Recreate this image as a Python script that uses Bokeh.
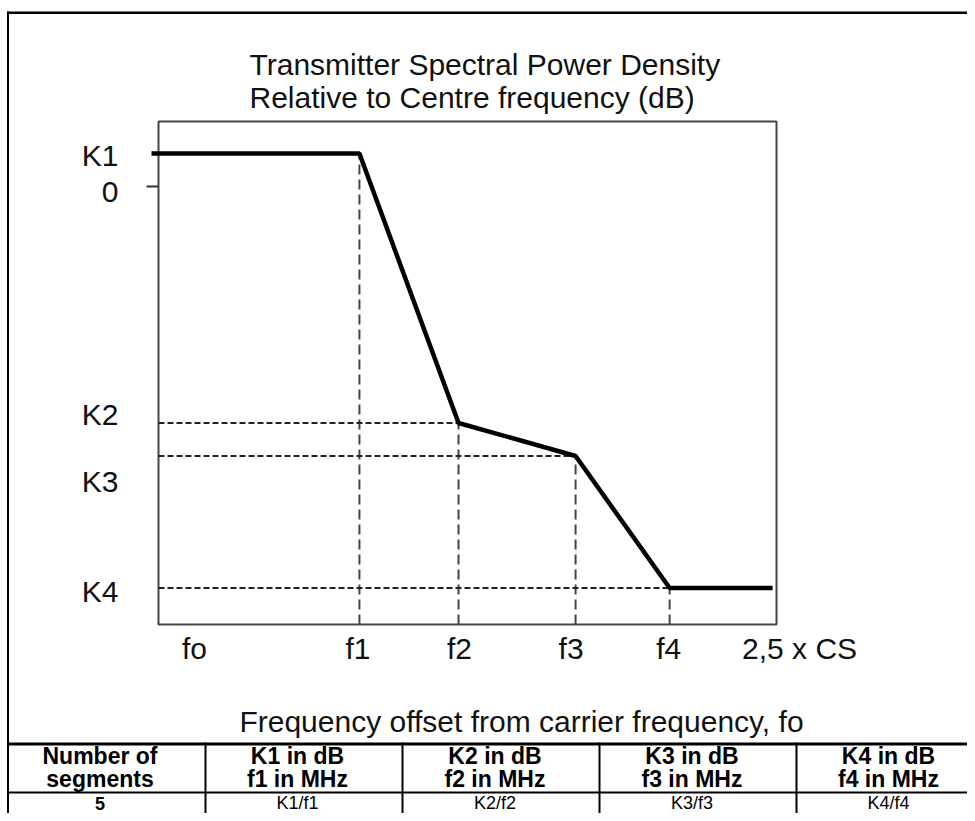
from bokeh.plotting import figure
from bokeh.models import Label, BoxAnnotation, Range1d, ColumnDataSource
from bokeh.embed import file_html
from bokeh.resources import INLINE

# ---------------- data ----------------
title_lines = ["Transmitter Spectral Power Density",
               "Relative to Centre frequency (dB)"]
x_title = "Frequency offset from carrier frequency, fo"

freq_labels = ["fo", "f1", "f2", "f3", "f4", "2,5 x CS"]
freq_values = [0.0, 0.818, 1.2215, 1.698, 2.081, 2.5]      # offset in channel spacings

level_labels = ["K1", "0", "K2", "K3", "K4"]
level_values = [3.0, 0.0, -21.5, -24.5, -36.5]              # dB

mask_x = [0.0, 0.818, 1.2215, 1.698, 2.081, 2.5]
mask_y = [3.0, 3.0, -21.5, -24.5, -36.5, -36.5]

box_x = [0.0, 2.516]        # extent of the drawn chart box (x)
box_y = [-39.82, 5.91]      # extent of the drawn chart box (dB)

table_header = [["Number of", "segments"],
                ["K1 in dB", "f1 in MHz"],
                ["K2 in dB", "f2 in MHz"],
                ["K3 in dB", "f3 in MHz"],
                ["K4 in dB", "f4 in MHz"]]
table_row = ["5", "K1/f1", "K2/f2", "K3/f3", "K4/f4"]

# ---------------- layout / style ----------------
FONT = "Liberation Sans"
TXT = "#111111"
W, H = 967, 813
BOX_L, BOX_R, BOX_T, BOX_B = 158, 776, 121, 624   # pixel placement of chart box

px_per_x = (BOX_R - BOX_L) / (box_x[1] - box_x[0])
px_per_y = (BOX_B - BOX_T) / (box_y[1] - box_y[0])
x_range = Range1d(box_x[0] - BOX_L / px_per_x, box_x[1] + (W - BOX_R) / px_per_x)
y_range = Range1d(box_y[0] - (H - BOX_B) / px_per_y, box_y[1] + BOX_T / px_per_y)


def sy(py):            # pixel row (from top) -> screen units (from bottom)
    return H - py


p = figure(width=W, height=H, x_range=x_range, y_range=y_range,
           x_axis_location=None, y_axis_location=None,
           toolbar_location=None, output_backend="svg", title=None,
           min_border=0)
p.background_fill_color = "white"
p.border_fill_color = "white"
p.outline_line_color = None
for g in p.grid:
    g.visible = False

# chart box
p.quad(left=[box_x[0]], right=[box_x[1]], bottom=[box_y[0]], top=[box_y[1]],
       fill_color=None, line_color="#444444", line_width=2)

# tick mark at 0 dB
p.segment(x0=[box_x[0] - 12 / px_per_x], x1=[box_x[0]], y0=[level_values[1]],
          y1=[level_values[1]], line_color="#333333", line_width=2)

# dashed guide lines
vsrc = ColumnDataSource(dict(x=freq_values[1:5], y0=[box_y[0]] * 4, y1=mask_y[1:5]))
p.segment(x0="x", y0="y0", x1="x", y1="y1", source=vsrc,
          line_color="#444444", line_width=2, line_dash="10 5")
hsrc = ColumnDataSource(dict(x0=[box_x[0]] * 3, x1=freq_values[2:5], y=level_values[2:5]))
p.segment(x0="x0", y0="y", x1="x1", y1="y", source=hsrc,
          line_color="#222222", line_width=2, line_dash="6 3")

# mask line (begins with a short stub left of the box)
p.line([mask_x[0] - 7 / px_per_x] + mask_x[1:], mask_y, line_color="black", line_width=4.5)


def label(x, y, text, size, align="center", bold=False, xu="screen", yu="screen",
          xo=0, yo=0, color=TXT):
    p.add_layout(Label(x=x, y=y, x_units=xu, y_units=yu, x_offset=xo, y_offset=yo,
                       text=text, text_font=FONT, text_font_size=f"{size}px",
                       text_font_style="bold" if bold else "normal",
                       text_color=color, text_align=align, text_baseline="middle"))


# title (left aligned, two lines)
for i, t in enumerate(title_lines):
    label(249, sy(63.5 + 33 * i), t, 30, align="left")

# y labels (vertical centre of each label relative to its level, px downward)
y_label_drop = [1.5, 5.7, -8.5, 25.5, 3.5]
for lab, v, d in zip(level_labels, level_values, y_label_drop):
    label(118, v, lab, 30, align="right", yu="data", yo=-d)

# x labels
x_label_shift = [36, -1.5, 1, -4.5, -1, 27]
for lab, v, s in zip(freq_labels, freq_values, x_label_shift):
    label(v, sy(648), lab, 30, xu="data", xo=s)

# x title
label(521, sy(720.5), x_title, 30)


# frame / table rules
def rule(l, r, t, b):
    p.add_layout(BoxAnnotation(left=l, right=r, top=sy(t), bottom=sy(b),
                               left_units="screen", right_units="screen",
                               top_units="screen", bottom_units="screen",
                               fill_color="black", fill_alpha=1, line_color=None))


TABLE_TOP, ROW_DIV = 742, 791
rule(6.5, 8.5, 11, H)                   # outer left
rule(6.5, W, 11, 13.5)                  # outer top
rule(6.5, W, TABLE_TOP, TABLE_TOP + 3)  # table top
rule(6.5, W, ROW_DIV, ROW_DIV + 2)      # row divider
for cx in [204, 401, 598, 795]:
    rule(cx, cx + 2, TABLE_TOP, H)

col_centres = [99.5, 297, 494.5, 691.5, 888]
for cxp, hdr, cell in zip(col_centres, table_header, table_row):
    for j, line in enumerate(hdr):
        label(cxp, sy(755 + 23 * j), line, 23, bold=True, color="black")
    label(cxp, sy(802.5), cell, 18, bold=(cell == table_row[0]), color="black")

open("out.html", "w").write(file_html(p, INLINE))
